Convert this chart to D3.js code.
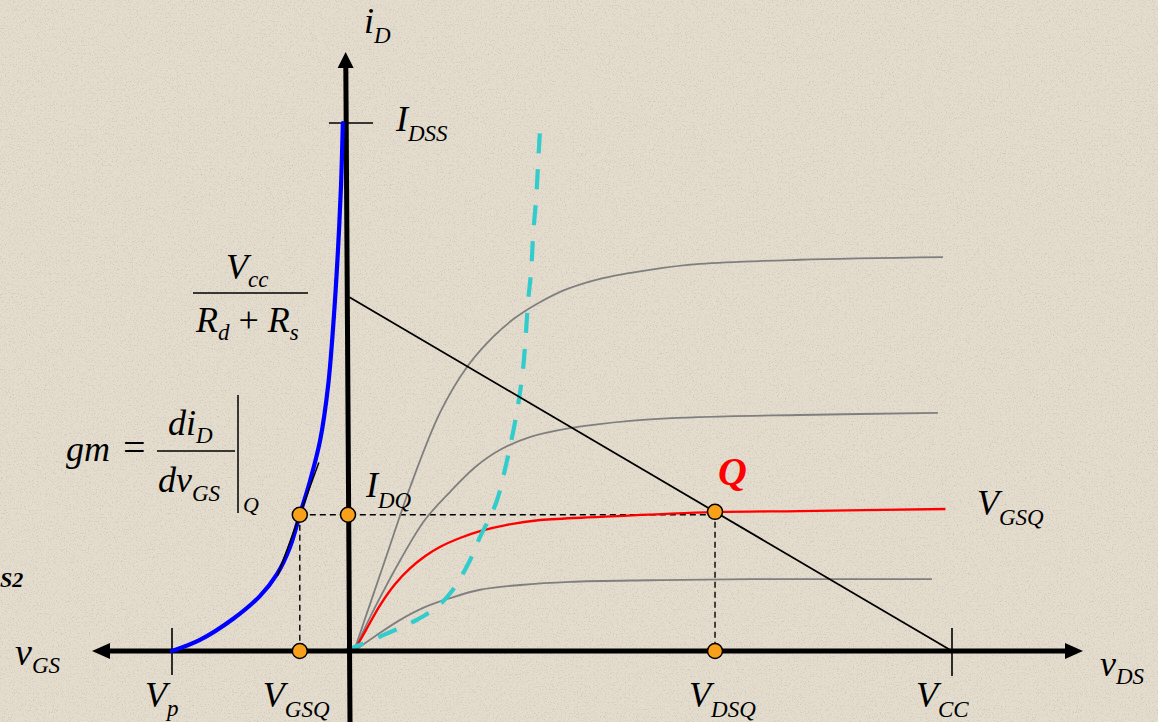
<!DOCTYPE html>
<html>
<head>
<meta charset="utf-8">
<script src="https://cdn.jsdelivr.net/npm/d3@7"></script>
<style>
  html, body { margin: 0; padding: 0; background: #e4dccd; overflow: hidden; }
  text { font-family: "Liberation Serif", "Times New Roman", serif; font-style: italic; fill: #000; }
</style>
</head>
<body>
<svg id="chart" width="1158" height="722"></svg>
<script>
// ---- JFET operating-point data (volts, mA) ----
const VP = -4;          // pinch-off voltage
const VCC = 12;         // supply voltage
const IDSS = 10;        // saturation drain current at vGS = 0
const loadIntercept = 6.7;   // Vcc / (Rd + Rs)
const VGSQ = -1.12;
const IDQ = 2.58;
const VDSQ = 7.28;
const gmQ = 2.3;        // slope of the transfer curve at Q, mA/V

// Transfer characteristic iD(vGS)
const transferVGS = [-4.00, -3.37, -2.62, -2.02, -1.63, -1.34, -1.12, -0.89, -0.66, -0.48, -0.35, -0.26, -0.19, -0.15];
const transferID  = [0.00, 0.21, 0.61, 1.04, 1.46, 1.97, 2.58, 3.22, 4.00, 5.04, 6.36, 7.59, 8.83, 10.0];

// Output characteristics iD(vDS), one per gate voltage
const outTopVDS = [0.09, 0.69, 1.21, 1.80, 2.34, 2.86, 3.30, 3.80, 4.29, 4.99, 5.98, 6.98, 8.97, 11.82];
const outTopID  = [0.00, 1.67, 3.11, 4.51, 5.38, 5.95, 6.31, 6.61, 6.84, 7.05, 7.22, 7.33, 7.41, 7.46];
const outMidVDS = [0.09, 0.51, 1.01, 1.50, 2.00, 2.50, 3.00, 3.59, 4.39, 5.59, 6.98, 8.97, 11.72];
const outMidID  = [0.00, 0.83, 1.72, 2.48, 3.01, 3.48, 3.81, 4.05, 4.22, 4.36, 4.43, 4.47, 4.51];
const outQVDS   = [0.09, 0.33, 0.61, 0.91, 1.21, 1.51, 1.80, 2.20, 2.60, 3.14, 3.80, 4.99, 7.28, 8.97, 11.87];
const outQID    = [0.00, 0.40, 0.87, 1.27, 1.57, 1.80, 1.97, 2.14, 2.27, 2.39, 2.48, 2.54, 2.63, 2.65, 2.69];
const outLowVDS = [0.09, 0.51, 1.01, 1.50, 2.00, 2.60, 3.40, 4.39, 5.98, 7.98, 11.60];
const outLowID  = [0.00, 0.28, 0.59, 0.83, 1.00, 1.16, 1.25, 1.31, 1.34, 1.36, 1.36];

// Pinch-off boundary (edge of the saturation region)
const pinchVDS = [-0.09, 0.67, 1.34, 1.74, 2.06, 2.40, 2.60, 2.80, 2.94, 3.14, 3.34, 3.46, 3.56, 3.62, 3.66, 3.72, 3.76, 3.80];
const pinchID  = [0.00, 0.30, 0.59, 0.83, 1.16, 1.72, 2.16, 2.54, 2.86, 3.62, 4.56, 5.38, 6.65, 7.22, 7.92, 8.60, 9.30, 9.96];

// ---- scales ----
const originX = 349.5, originY = 651;
const xGS = d3.scaleLinear().domain([VP, 0]).range([172, originX]);
const xDS = d3.scaleLinear().domain([0, VCC]).range([originX, 952]);
const y   = d3.scaleLinear().domain([0, IDSS]).range([originY, 123]);

const svg = d3.select('#chart');

// background with light paper grain
const defs = svg.append('defs');
const grain = defs.append('filter').attr('id', 'grain').attr('x', 0).attr('y', 0).attr('width', '100%').attr('height', '100%');
grain.append('feTurbulence').attr('type', 'fractalNoise').attr('baseFrequency', 0.75).attr('numOctaves', 2).attr('seed', 7).attr('result', 'n');
grain.append('feColorMatrix').attr('in', 'n').attr('type', 'matrix')
  .attr('values', '0 0 0 0 0.45  0 0 0 0 0.42  0 0 0 0 0.38  2.6 0 0 0 -1.35');
svg.append('rect').attr('width', 1158).attr('height', 722).attr('fill', '#e4dccd');
svg.append('rect').attr('width', 1158).attr('height', 722).attr('filter', 'url(#grain)').attr('opacity', 0.6);

const zip = (xs, ys) => xs.map((v, i) => [v, ys[i]]);
const smooth = d3.curveCatmullRom.alpha(0.5);
const lineDS = d3.line().x(d => xDS(d[0])).y(d => y(d[1])).curve(smooth);
const lineGS = d3.line().x(d => xGS(d[0])).y(d => y(d[1])).curve(smooth);

// ---- projection lines from Q ----
const dash = '6,4';
const projections = svg.append('g').attr('stroke', '#000').attr('stroke-width', 1.4).attr('stroke-dasharray', dash).attr('fill', 'none');
projections.append('line').attr('x1', xGS(VGSQ)).attr('x2', xDS(VDSQ)).attr('y1', y(IDQ)).attr('y2', y(IDQ));
projections.append('line').attr('x1', xGS(VGSQ)).attr('x2', xGS(VGSQ)).attr('y1', y(IDQ)).attr('y2', y(0));
const QID = loadIntercept * (1 - VDSQ / VCC);
projections.append('line').attr('x1', xDS(VDSQ)).attr('x2', xDS(VDSQ)).attr('y1', y(QID)).attr('y2', y(0));

// ---- output characteristics ----
const curves = svg.append('g').attr('fill', 'none');
[[outTopVDS, outTopID], [outMidVDS, outMidID], [outLowVDS, outLowID]].forEach(([xs, ys]) => {
  curves.append('path').attr('d', lineDS(zip(xs, ys))).attr('stroke', '#7f7f7f').attr('stroke-width', 1.8);
});
curves.append('path').attr('d', lineDS(zip(outQVDS, outQID))).attr('stroke', '#ff0000').attr('stroke-width', 2.4);

// pinch-off locus
svg.append('path').attr('d', lineDS(zip(pinchVDS, pinchID)))
  .attr('fill', 'none').attr('stroke', '#33cccc').attr('stroke-width', 4.2).attr('stroke-dasharray', '20,16');

// DC load line
svg.append('line')
  .attr('x1', xDS(0)).attr('y1', y(loadIntercept))
  .attr('x2', xDS(VCC)).attr('y2', y(0))
  .attr('stroke', '#000').attr('stroke-width', 1.8);

// ---- axes with arrowheads ----
const axes = svg.append('g');
axes.append('line').attr('x1', 106).attr('x2', 1068).attr('y1', originY).attr('y2', originY)
  .attr('stroke', '#000').attr('stroke-width', 5);
axes.append('path').attr('d', `M92,${originY} L110,${originY - 8} L110,${originY + 8} Z`).attr('fill', '#000');
axes.append('path').attr('d', `M1083,${originY} L1065,${originY - 8} L1065,${originY + 8} Z`).attr('fill', '#000');
axes.append('line').attr('x1', 350).attr('y1', 722).attr('x2', 345.8).attr('y2', 64)
  .attr('stroke', '#000').attr('stroke-width', 5);
axes.append('path').attr('d', 'M345.6,52 L337.6,68 L353.6,68 Z').attr('fill', '#000');

// ticks
const ticks = svg.append('g').attr('stroke', '#000').attr('stroke-width', 1.6);
ticks.append('line').attr('x1', xGS(VP)).attr('x2', xGS(VP)).attr('y1', originY - 23).attr('y2', originY + 24);
ticks.append('line').attr('x1', xDS(VCC)).attr('x2', xDS(VCC)).attr('y1', originY - 23).attr('y2', originY + 25);
ticks.append('line').attr('x1', 329).attr('x2', 373).attr('y1', y(IDSS)).attr('y2', y(IDSS));

// ---- transfer characteristic ----
svg.append('path').attr('d', lineGS(zip(transferVGS, transferID)))
  .attr('fill', 'none').attr('stroke', '#0000ff').attr('stroke-width', 4.2).attr('stroke-linecap', 'round');

// tangent at Q (slope gm)
svg.append('line')
  .attr('x1', xGS(VGSQ - 0.5)).attr('y1', y(IDQ - gmQ * 0.5))
  .attr('x2', xGS(VGSQ + 0.43)).attr('y2', y(IDQ + gmQ * 0.43))
  .attr('stroke', '#000').attr('stroke-width', 1.5);

// ---- operating-point markers ----
const dots = [
  [xGS(VGSQ), y(IDQ)], [xGS(0) - 1.5, y(IDQ)], [xDS(VDSQ), y(QID)],
  [xGS(VGSQ), y(0)], [xDS(VDSQ), y(0)]
];
svg.append('g').selectAll('circle').data(dots).join('circle')
  .attr('cx', d => d[0]).attr('cy', d => d[1]).attr('r', 7.5)
  .attr('fill', '#f9a01a').attr('stroke', '#000').attr('stroke-width', 1.5);

// ---- labels ----
const MAIN = 36, SUB = 23;
function label(x, yy, parts, opts = {}) {
  const t = svg.append('text').attr('x', x).attr('y', yy);
  if (opts.fill) t.style('fill', opts.fill);
  if (opts.weight) t.attr('font-weight', opts.weight);
  let shift = 0;
  parts.forEach(p => {
    const s = t.append('tspan').text(p.t).attr('font-size', p.size || MAIN);
    const target = p.sub ? (p.dy || 9) : 0;
    if (target !== shift) { s.attr('dy', target - shift); shift = target; }
    if (p.upright) s.style('font-style', 'normal');
    if (p.dx) s.attr('dx', p.dx);
  });
  return t;
}

label(364, 33, [{ t: 'i' }, { t: 'D', sub: true, size: SUB, dy: 10 }]);
label(396, 131, [{ t: 'I' }, { t: 'DSS', sub: true, size: SUB, dy: 10 }]);
label(366, 497, [{ t: 'I' }, { t: 'DQ', sub: true, size: SUB, dy: 11 }]);
label(718, 485, [{ t: 'Q', size: 40 }], { fill: '#ff0000', weight: 'bold' });
label(977, 515, [{ t: 'V' }, { t: 'GSQ', sub: true, size: SUB, dy: 10 }]);
label(15, 665, [{ t: 'v', size: 38 }, { t: 'GS', sub: true, size: SUB, dy: 8 }]);
label(1100, 676, [{ t: 'v', size: 36 }, { t: 'DS', sub: true, size: SUB, dy: 8 }]);
label(xGS(VP) - 27, 707, [{ t: 'V' }, { t: 'p', sub: true, size: SUB, dy: 9 }]);
label(xGS(VGSQ) - 37, 707, [{ t: 'V' }, { t: 'GSQ', sub: true, size: SUB, dy: 10 }]);
label(xDS(VDSQ) - 26, 707, [{ t: 'V' }, { t: 'DSQ', sub: true, size: SUB, dy: 10 }]);
label(xDS(VCC) - 36, 707, [{ t: 'V' }, { t: 'CC', sub: true, size: SUB, dy: 10 }]);
svg.append('text').attr('x', 0).attr('y', 587)
  .attr('font-size', 22).attr('font-weight', 'bold').text('S2');

// load-line intercept Vcc / (Rd + Rs)
label(226, 279, [{ t: 'V' }, { t: 'cc', sub: true, size: SUB, dy: 8 }]);
svg.append('line').attr('x1', 193).attr('x2', 308).attr('y1', 293).attr('y2', 293).attr('stroke', '#000').attr('stroke-width', 1.5);
label(196, 332, [
  { t: 'R' }, { t: 'd', sub: true, size: SUB, dy: 8 },
  { t: ' + ', upright: true }, { t: 'R' }, { t: 's', sub: true, size: SUB, dy: 8 }
]);

// transconductance gm = diD/dvGS at Q
label(66, 461, [{ t: 'gm' }]);
svg.append('text').attr('x', 123).attr('y', 461).attr('font-size', 40).style('font-style', 'normal').text('=');
label(168, 435, [{ t: 'di' }, { t: 'D', sub: true, size: SUB, dy: 8 }]);
svg.append('line').attr('x1', 157).attr('x2', 235).attr('y1', 451).attr('y2', 451).attr('stroke', '#000').attr('stroke-width', 1.5);
label(158, 492, [{ t: 'dv' }, { t: 'GS', sub: true, size: SUB, dy: 9 }]);
svg.append('line').attr('x1', 238).attr('x2', 238).attr('y1', 395).attr('y2', 513).attr('stroke', '#000').attr('stroke-width', 1.5);
label(243, 512, [{ t: 'Q', size: 22 }]);
</script>
</body>
</html>
